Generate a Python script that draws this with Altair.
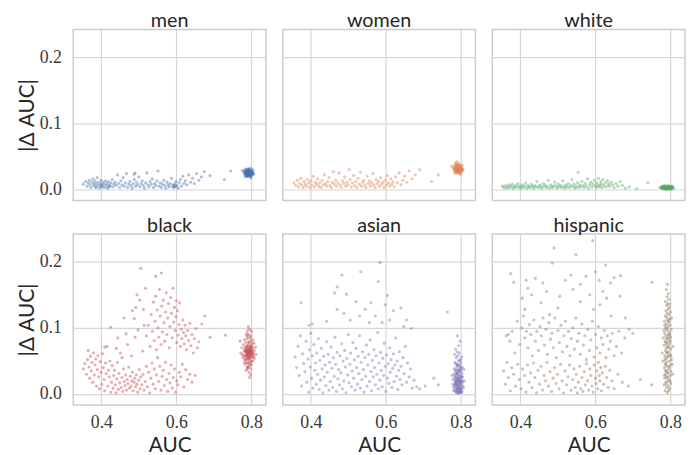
import altair as alt
import pandas as pd

groups = ["men", "women", "white", "black", "asian", "hispanic"]
colors = ["#4C72B0", "#DD8452", "#55A868", "#C44E52", "#8172B3", "#937860"]

# Points as alternating (AUC, |dAUC|) pairs, both in thousandths
men_spread = [352,8, 358,12, 362,5, 365,10, 368,14, 370,7, 372,3, 375,11, 377,16, 379,6, 381,9, 383,13, 385,4, 387,8, 389,18, 391,11, 393,6, 395,2, 397,9, 399,14, 401,7, 403,4, 405,11, 407,8, 409,3, 411,13, 413,6, 415,9, 417,2, 419,12, 421,7, 424,5, 426,10, 429,15, 431,4, 434,8, 437,11, 440,6, 443,22, 446,9, 449,3, 452,13, 455,7, 458,18, 461,5, 464,10, 467,24, 470,3, 473,8, 476,12, 479,6, 482,2, 485,9, 488,15, 491,5, 494,11, 497,7, 500,19, 503,4, 506,9, 509,13, 512,6, 515,2, 518,10, 521,25, 524,7, 527,4, 530,12, 533,8, 536,16, 539,3, 542,9, 545,6, 548,13, 551,28, 554,5, 557,10, 560,3, 563,8, 566,14, 569,6, 572,2, 575,11, 578,7, 581,4, 584,9, 587,17, 590,5, 593,3, 596,8, 599,12, 602,6, 605,2, 608,10, 611,15, 614,5, 617,20, 620,9, 624,13, 628,7, 633,22, 638,11, 643,17, 648,9, 654,24, 660,14, 667,19, 675,27, 690,21, 728,15, 745,28, 490,25, 487,23, 595,4, 592,7, 598,5, 386,3, 400,5, 420,4]
men_cluster = [782,24, 785,27, 788,22, 791,25, 794,28, 797,24, 800,26, 803,23, 786,30, 790,31, 794,20, 798,21, 784,19, 789,26, 793,23, 796,29, 799,27, 802,28, 805,25, 781,28, 787,24, 792,27, 795,25, 801,22, 804,30, 783,22, 790,21, 797,32, 800,19, 786,26, 791,29, 794,24, 789,23, 796,26, 799,24, 792,22, 788,28, 785,25, 802,26, 779,26, 776,29, 806,23, 793,31, 798,18, 784,31, 791,20, 787,27, 790,24, 793,26, 796,23, 799,25, 788,25, 791,23, 794,26, 797,27, 800,24, 785,23, 789,29, 792,24, 795,28, 798,26, 801,25, 786,24, 790,27, 793,28, 796,25, 799,29, 803,26, 787,21, 792,29, 797,22, 784,27, 802,23, 795,22, 789,20, 794,31]

women_spread = [355,10, 360,6, 364,14, 367,4, 370,9, 373,17, 376,7, 379,3, 382,12, 385,8, 388,5, 391,15, 394,10, 397,3, 400,13, 403,7, 406,20, 409,4, 412,11, 415,8, 418,16, 421,5, 424,10, 427,3, 430,14, 433,7, 436,22, 439,9, 442,5, 445,12, 448,18, 451,6, 454,3, 457,11, 460,27, 463,8, 466,14, 469,5, 472,10, 475,25, 478,7, 481,3, 484,13, 487,9, 490,19, 493,5, 496,11, 499,7, 502,30, 505,15, 508,4, 511,10, 514,21, 517,6, 520,12, 523,3, 526,17, 529,8, 532,26, 535,5, 538,11, 541,14, 544,7, 547,3, 550,20, 553,9, 556,13, 559,5, 562,10, 565,24, 568,7, 571,3, 574,15, 577,9, 580,12, 583,5, 586,18, 589,8, 592,11, 595,3, 598,14, 601,7, 604,21, 607,10, 610,5, 613,16, 616,8, 619,12, 622,4, 626,19, 630,10, 635,25, 640,7, 645,14, 650,20, 656,11, 662,28, 670,16, 678,22, 690,30, 722,12, 740,22]
women_cluster = [782,30, 785,33, 788,27, 791,31, 794,34, 797,29, 800,32, 803,28, 786,37, 790,38, 794,25, 798,26, 784,24, 789,32, 793,29, 796,35, 799,33, 802,35, 805,31, 781,34, 787,30, 792,33, 795,31, 801,27, 804,37, 783,27, 790,26, 797,39, 800,24, 786,32, 791,36, 794,30, 789,28, 796,32, 799,30, 792,27, 788,35, 785,30, 802,31, 779,32, 776,35, 806,29, 793,38, 798,23, 784,38, 791,25, 790,42, 787,41, 787,32, 790,29, 793,31, 796,28, 799,31, 788,31, 791,29, 794,32, 797,33, 800,30, 785,29, 789,35, 792,30, 795,34, 798,32, 801,31, 786,30, 790,33, 793,34, 796,31, 799,35, 803,32, 787,27, 792,36, 797,28, 784,33, 802,29, 795,27, 789,26, 794,37]

white_spread = [352,5, 356,3, 360,6, 363,2, 366,4, 369,7, 372,3, 375,5, 378,8, 381,2, 384,4, 387,6, 390,3, 393,9, 396,5, 399,2, 402,4, 405,7, 408,3, 411,5, 414,10, 417,2, 420,6, 423,4, 426,3, 429,8, 432,5, 435,2, 438,6, 441,4, 444,12, 447,3, 450,5, 453,7, 456,2, 459,4, 462,9, 465,6, 468,3, 471,5, 474,14, 477,2, 480,7, 483,4, 486,3, 489,6, 492,11, 495,5, 498,2, 501,8, 504,4, 507,6, 510,3, 513,13, 516,5, 519,2, 522,7, 525,4, 528,9, 531,3, 534,6, 537,15, 540,4, 543,8, 546,2, 549,5, 552,10, 554,26, 555,3, 558,7, 561,4, 564,12, 567,6, 570,3, 573,9, 576,5, 579,16, 582,2, 585,7, 588,11, 591,4, 594,8, 597,14, 600,6, 602,3, 604,10, 606,5, 608,17, 610,7, 612,4, 614,12, 616,8, 618,3, 620,15, 623,6, 626,10, 629,4, 632,13, 635,8, 638,5, 642,11, 646,7, 650,3, 655,9, 660,5, 666,12, 672,6, 680,2, 690,4, 710,1, 740,10]
white_cluster = [772,3, 776,2, 779,4, 782,3, 785,1, 788,4, 791,3, 794,2, 797,4, 800,3, 803,2, 806,3, 780,5, 784,6, 787,2, 790,5, 793,1, 796,5, 799,2, 802,4, 805,5, 778,2, 781,1, 786,3, 789,2, 792,4, 795,3, 798,1, 801,5, 804,1, 783,4, 790,2, 797,2, 788,0, 794,6, 800,0, 786,5, 792,0, 808,2, 775,4, 796,3, 791,1, 784,2, 799,4, 789,3, 777,3, 780,2, 783,2, 786,1, 789,4, 792,3, 795,4, 798,3, 801,3, 804,3, 787,4, 793,3, 799,1, 782,4, 806,4]

black_spread = [352,38, 356,46, 360,30, 363,52, 365,66, 367,41, 369,24, 371,57, 373,35, 375,48, 377,18, 379,62, 381,29, 383,44, 385,53, 387,12, 389,37, 391,58, 393,26, 395,8, 397,49, 399,33, 401,15, 403,61, 405,40, 407,22, 409,5, 411,47, 413,31, 415,72, 417,12, 419,36, 421,26, 423,50, 425,3, 427,18, 429,43, 431,9, 433,28, 435,36, 437,14, 439,2, 441,23, 443,48, 445,7, 447,31, 449,17, 451,62, 453,10, 455,25, 457,4, 459,38, 461,19, 463,13, 465,29, 467,6, 469,22, 471,16, 473,41, 475,9, 477,27, 479,12, 481,20, 483,33, 485,5, 487,18, 489,24, 491,11, 493,29, 495,15, 497,3, 499,21, 501,37, 503,8, 505,26, 508,14, 511,30, 514,6, 517,19, 520,42, 523,11, 526,33, 529,2, 532,24, 535,47, 538,15, 541,38, 544,8, 547,29, 550,55, 553,19, 556,42, 559,6, 562,27, 565,36, 568,13, 571,48, 574,22, 577,4, 580,31, 583,17, 586,44, 589,9, 592,25, 595,38, 598,3, 601,20, 604,14, 608,33, 612,26, 616,45, 620,11, 625,37, 630,22, 636,30, 642,18, 650,28, 425,101, 444,85, 466,91, 460,115, 488,114, 483,126, 492,131, 409,71, 440,69, 510,65, 505,190, 545,178, 560,183, 520,88, 525,104, 530,72, 533,120, 536,95, 539,139, 541,81, 543,110, 545,148, 547,67, 549,127, 551,100, 553,86, 555,158, 557,118, 559,75, 561,133, 563,94, 565,142, 567,108, 569,80, 571,124, 573,153, 575,90, 577,115, 579,137, 581,70, 583,102, 585,146, 587,122, 589,85, 591,160, 593,109, 595,131, 597,96, 599,117, 600,141, 601,78, 603,126, 605,89, 607,105, 609,138, 611,72, 613,98, 615,84, 617,112, 619,93, 621,76, 623,104, 625,88, 627,67, 630,96, 633,81, 636,107, 639,73, 642,90, 645,62, 648,84, 652,99, 656,70, 660,79, 668,106, 676,118, 690,86, 731,89, 495,150, 502,142, 512,128, 518,160, 514,104, 498,97, 470,75, 455,55, 480,58, 490,86]
black_cluster = [790,64, 792,58, 794,70, 796,62, 798,55, 800,67, 788,73, 786,60, 791,48, 795,78, 799,44, 802,60, 785,52, 789,84, 793,66, 797,72, 801,50, 804,63, 787,68, 790,57, 794,46, 798,81, 792,75, 796,53, 800,74, 783,64, 789,62, 793,41, 797,60, 803,70, 791,87, 795,56, 799,65, 786,78, 790,38, 794,61, 798,69, 788,47, 802,77, 784,71, 792,52, 796,66, 800,58, 787,56, 791,72, 795,63, 799,88, 793,54, 789,67, 797,49, 801,64, 785,66, 806,57, 780,58, 808,66, 782,82, 794,33, 790,96, 796,98, 798,29, 788,92, 792,102, 786,36, 800,95, 795,25, 791,42, 797,85, 783,45, 804,50, 789,59, 793,79, 776,60, 811,71, 799,38, 787,89, 805,82, 772,62, 775,70, 778,55, 781,66, 784,58, 787,63, 790,70, 793,59, 796,57, 799,72, 802,67, 805,61, 808,54, 779,75, 783,52, 786,66, 789,54, 792,66, 795,68, 798,61, 801,71, 804,56, 788,64, 791,60, 794,65, 797,64, 800,62, 785,70, 782,48, 807,77, 770,80, 812,60, 793,90, 789,40, 798,45]

asian_spread = [584,199, 533,185, 483,180, 374,138, 470,162, 463,153, 495,151, 580,170, 604,149, 764,124, 545,128, 560,138, 520,140, 572,118, 590,108, 620,126, 640,130, 655,112, 404,106, 395,104, 530,118, 505,112, 556,108, 610,112, 598,135, 470,128, 488,122, 442,110, 648,102, 668,99, 358,56, 362,40, 366,72, 369,28, 372,88, 375,12, 378,61, 381,46, 384,34, 387,80, 389,18, 392,53, 394,3, 396,67, 398,41, 400,92, 402,24, 404,58, 406,9, 408,75, 410,36, 412,47, 414,15, 416,62, 418,30, 420,84, 422,7, 424,51, 426,21, 428,69, 430,38, 432,2, 434,57, 436,26, 438,44, 440,13, 442,79, 444,33, 446,60, 448,6, 450,48, 452,19, 454,71, 456,39, 458,10, 460,55, 462,27, 464,86, 466,45, 468,4, 470,63, 472,23, 474,37, 476,14, 478,58, 480,32, 482,76, 484,8, 486,50, 488,20, 490,66, 492,41, 494,2, 496,54, 498,29, 500,90, 502,17, 504,45, 506,62, 508,11, 510,35, 512,78, 514,24, 516,52, 518,6, 520,69, 522,40, 524,15, 526,57, 528,31, 530,88, 532,9, 534,48, 536,22, 538,64, 540,37, 542,3, 544,55, 546,27, 548,74, 550,12, 552,44, 554,60, 556,19, 558,82, 560,34, 562,5, 564,51, 566,26, 568,67, 570,40, 572,14, 574,58, 576,30, 578,93, 580,8, 582,47, 584,21, 586,63, 588,36, 590,11, 592,54, 594,28, 596,77, 598,42, 600,4, 602,59, 604,24, 606,46, 608,16, 610,70, 612,33, 614,52, 616,10, 618,39, 620,61, 622,19, 624,44, 626,85, 628,27, 630,50, 632,7, 634,36, 636,64, 638,22, 640,42, 643,14, 646,55, 649,31, 652,72, 655,18, 658,47, 662,26, 666,38, 670,9, 675,21, 682,11, 690,8, 705,12, 728,24, 740,14]
asian_cluster = [780,10, 783,25, 786,4, 789,18, 792,32, 795,8, 798,22, 801,14, 804,40, 787,46, 790,3, 793,12, 796,28, 799,6, 802,20, 785,34, 788,9, 791,24, 794,16, 797,36, 800,2, 803,27, 784,15, 787,30, 790,42, 793,1, 796,19, 799,33, 802,8, 786,22, 789,5, 792,14, 795,38, 798,11, 801,26, 784,48, 788,36, 791,7, 794,29, 797,3, 800,17, 803,31, 785,12, 789,27, 792,45, 795,20, 798,5, 801,39, 787,17, 790,31, 793,24, 796,9, 799,52, 782,38, 805,18, 779,22, 807,10, 792,58, 796,62, 788,55, 800,47, 786,68, 794,73, 790,64, 798,80, 784,60, 802,56, 791,88, 795,50, 789,44, 793,35, 797,43, 781,30, 804,25, 786,15, 799,13, 791,19, 794,4, 788,23, 783,6, 800,35, 796,51, 776,28, 808,37, 781,5, 784,20, 787,9, 790,14, 793,6, 796,23, 799,18, 802,3, 805,12, 785,27, 788,2, 791,11, 794,21, 797,15, 800,8, 803,4, 786,18, 789,32, 792,8, 795,2, 798,26, 801,20, 783,13, 790,20, 796,36, 793,43, 787,38, 799,41, 778,15, 809,20]

hispanic_spread = [593,232, 490,221, 548,211, 485,198, 374,182, 382,169, 627,195, 667,179, 751,169, 440,175, 460,168, 520,172, 535,180, 560,166, 575,178, 600,185, 610,172, 640,168, 650,176, 420,160, 415,172, 405,145, 412,128, 430,150, 470,155, 505,148, 540,158, 585,150, 620,155, 630,145, 665,148, 500,130, 560,140, 595,128, 612,135, 642,118, 680,115, 455,138, 478,120, 362,88, 368,90, 372,80, 378,95, 385,62, 392,110, 398,75, 404,100, 408,118, 412,85, 416,95, 420,70, 424,105, 428,90, 432,58, 436,112, 440,80, 444,95, 448,66, 452,102, 456,88, 460,115, 464,74, 468,98, 472,60, 476,108, 480,83, 484,92, 488,70, 492,115, 496,55, 500,96, 504,78, 508,104, 512,64, 516,88, 520,110, 524,72, 528,95, 532,58, 536,84, 540,100, 544,68, 548,115, 552,80, 556,92, 560,60, 564,106, 568,74, 572,88, 576,52, 580,98, 584,66, 588,82, 592,110, 596,56, 600,90, 604,70, 608,102, 612,62, 616,85, 620,75, 624,96, 628,55, 632,88, 636,68, 640,80, 645,92, 650,58, 656,72, 662,95, 670,62, 678,85, 690,98, 700,92, 355,35, 360,15, 364,48, 368,25, 373,5, 377,40, 382,30, 387,12, 393,45, 397,22, 402,8, 406,38, 411,28, 415,3, 419,44, 423,18, 427,32, 431,10, 435,47, 439,25, 443,2, 447,36, 451,15, 455,42, 459,6, 463,28, 467,20, 471,48, 475,12, 479,34, 483,4, 487,24, 491,40, 495,16, 499,30, 503,8, 507,45, 511,20, 515,2, 519,35, 523,14, 527,26, 531,44, 535,6, 539,22, 543,38, 546,10, 549,30, 552,2, 555,18, 558,42, 561,8, 564,25, 567,4, 570,34, 573,14, 576,46, 579,20, 582,6, 585,38, 588,28, 591,12, 594,3, 597,44, 600,24, 602,16, 604,35, 606,8, 608,48, 610,28, 612,20, 614,40, 616,5, 618,32, 622,15, 626,42, 630,25, 634,10, 638,36, 644,20, 650,8, 660,30, 672,18, 688,12, 720,22, 750,14]
hispanic_cluster = [792,2, 786,5, 798,8, 790,10, 795,12, 783,14, 801,16, 788,18, 793,20, 797,22, 785,24, 791,26, 799,28, 787,30, 794,32, 802,34, 789,36, 796,38, 784,40, 792,42, 800,44, 786,46, 790,48, 797,50, 803,52, 788,54, 793,56, 785,58, 799,60, 791,62, 795,64, 787,66, 801,68, 789,70, 794,72, 783,74, 798,76, 792,78, 786,80, 796,82, 790,84, 800,86, 788,88, 794,90, 785,92, 797,94, 791,96, 802,98, 787,100, 793,102, 799,104, 789,106, 795,108, 784,110, 792,112, 798,114, 790,116, 786,118, 796,120, 791,122, 800,124, 788,126, 794,128, 797,131, 790,134, 793,137, 787,140, 796,143, 791,147, 794,152, 789,158, 792,166, 795,5, 789,15, 799,19, 784,28, 792,33, 797,41, 786,52, 801,57, 790,63, 795,70, 788,78, 793,85, 799,91, 791,99, 785,104, 796,111, 792,25, 788,44, 794,58, 790,74, 797,88, 783,96, 800,80, 786,35, 805,45, 778,62, 807,72, 780,50, 803,115, 781,85, 798,136, 806,30]

series = [
    ("men", men_spread + men_cluster),
    ("women", women_spread + women_cluster),
    ("white", white_spread + white_cluster),
    ("black", black_spread + black_cluster),
    ("asian", asian_spread + asian_cluster),
    ("hispanic", hispanic_spread + hispanic_cluster),
]

rows = []
for g, pts in series:
    for i in range(0, len(pts) - 1, 2):
        rows.append({"group": g, "auc": pts[i] / 1000.0, "dauc": pts[i + 1] / 1000.0})
df = pd.DataFrame(rows)

base = alt.Chart(df).mark_circle(size=10, opacity=0.45).encode(
    x=alt.X("auc:Q", title="AUC",
            scale=alt.Scale(domain=[0.325, 0.839], nice=False, zero=False),
            axis=alt.Axis(values=[0.4, 0.6, 0.8], format=".1f", labelPadding=8, titlePadding=3)),
    y=alt.Y("dauc:Q", title="|Δ AUC|",
            scale=alt.Scale(domain=[-0.0165, 0.242], nice=False, zero=False),
            axis=alt.Axis(values=[0.0, 0.1, 0.2], format=".1f", labelPadding=11, titlePadding=2)),
    color=alt.Color("group:N", scale=alt.Scale(domain=groups, range=colors), legend=None),
).properties(width=195, height=173)

chart = base.facet(
    facet=alt.Facet("group:N", sort=groups, title=None,
                    header=alt.Header(labelFont="Lato", labelFontSize=20,
                                      labelColor="#262626", labelPadding=-2)),
    columns=3,
    spacing={"row": 14, "column": 15},
).properties(
    padding={"left": 8, "top": 0, "right": 0, "bottom": 0}
).configure_axis(
    grid=True, gridColor="#d6d6d6", gridWidth=1.2,
    ticks=False, domain=False,
    labelFont="Liberation Serif", labelFontSize=18, labelColor="#3a3a3a",
    titleFont="Lato", titleFontSize=21, titleColor="#262626", titleFontWeight="normal",
).configure_view(stroke="#cccccc", strokeWidth=1.5)

chart.save("out.html", embed_options={"renderer": "svg", "actions": False})
